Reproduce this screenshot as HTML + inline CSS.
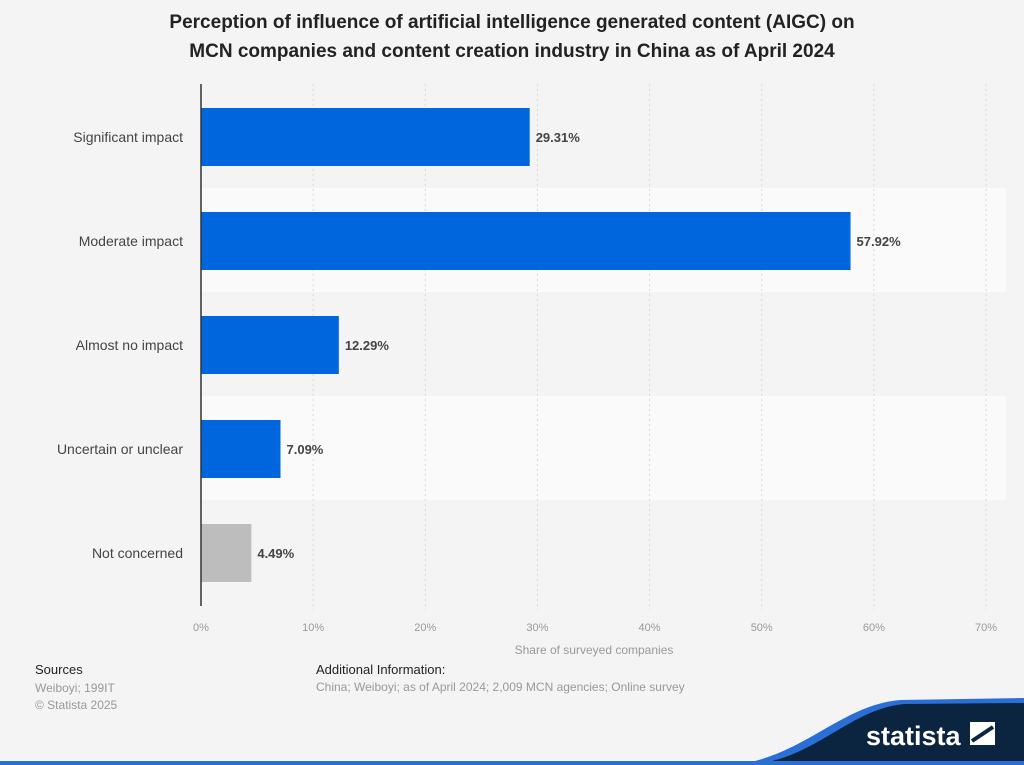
<!DOCTYPE html>
<html><head><meta charset="utf-8"><style>
body{margin:0;width:1024px;height:765px;background:#f4f4f4;font-family:"Liberation Sans",sans-serif;position:relative;overflow:hidden}
.t{position:absolute;left:0;width:1024px;text-align:center;font-weight:bold;font-size:19px;color:#222;line-height:29px;top:8px}
.ft{position:absolute;font-size:12px;color:#999}
.fh{color:#222;font-size:13px}
</style></head><body>
<div class="t">Perception of influence of artificial intelligence generated content (AIGC) on<br>MCN companies and content creation industry in China as of April 2024</div>
<svg id="c" width="1024" height="765" style="position:absolute;left:0;top:0"></svg>
<div class="ft fh" style="left:35px;top:662px">Sources</div>
<div class="ft" style="left:35px;top:680px;line-height:17px">Weiboyi; 199IT<br>© Statista 2025</div>
<div class="ft fh" style="left:316px;top:662px">Additional Information:</div>
<div class="ft" style="left:316px;top:680px">China; Weiboyi; as of April 2024; 2,009 MCN agencies; Online survey</div>
<script>
const categories=["Significant impact","Moderate impact","Almost no impact","Uncertain or unclear","Not concerned"];
const values=[29.31,57.92,12.29,7.09,4.49];
const colors=["#0066dd","#0066dd","#0066dd","#0066dd","#bdbdbd"];
const ticks=[0,10,20,30,40,50,60,70];
const NS="http://www.w3.org/2000/svg",svg=document.getElementById('c');
const x0=201,x1=986,top0=84,band=104;
const xs=v=>x0+(x1-x0)*v/70;
function mk(t,a,p){const e=document.createElementNS(NS,t);for(const k in a)e.setAttribute(k,a[k]);(p||svg).appendChild(e);return e;}
categories.forEach((c,i)=>{if(i%2==1){const r=mk('rect',{x:x0,y:top0+i*band,width:x1-x0+20,height:band,fill:'#fafafa'});}});
ticks.forEach(t=>{if(t>0){const l=mk('line',{x1:xs(t),x2:xs(t),y1:top0,y2:610,stroke:'#d8d8d8','stroke-dasharray':'2,3'});}
const tx=mk('text',{x:xs(t),y:631,'text-anchor':'middle','font-size':11,fill:'#999'});tx.textContent=t+'%';});
categories.forEach((c,i)=>{const cy=top0+i*band+band/2+1;
const b=mk('rect',{x:x0,y:cy-29,width:xs(values[i])-x0,height:58,fill:colors[i]});
const lb=mk('text',{x:183,y:cy+5,'text-anchor':'end','font-size':14,fill:'#444'});lb.textContent=c;
const v=mk('text',{x:xs(values[i])+6,y:cy+5,'font-size':13,'font-weight':'bold',fill:'#444'});v.textContent=values[i].toFixed(2)+'%';});
const ax=mk('line',{x1:x0,x2:x0,y1:top0,y2:606,stroke:'#333','stroke-width':1.5});
const xt=mk('text',{x:594,y:654,'text-anchor':'middle','font-size':12,fill:'#999'});xt.textContent='Share of surveyed companies';
const bl=mk('path',{d:'M730 765 C800 760 840 705 900 700 L1024 698 L1024 765 Z',fill:'#2a6fd6'});
const dk=mk('path',{d:'M748 765 C815 760 850 708 905 704 L1024 703 L1024 765 Z',fill:'#0b2440'});
const ln=mk('rect',{x:0,y:761,width:1024,height:4,fill:'#2a6fd6'});
const lg=mk('text',{x:866,y:745,'font-size':27,'font-weight':'bold',fill:'#fff'});lg.textContent='statista';
const ic=mk('rect',{x:970,y:722,width:25,height:23,fill:'#fff'});
const id=mk('path',{d:'M972 741 L993 727',stroke:'#0b2440','stroke-width':4});
</script>
</body></html>
